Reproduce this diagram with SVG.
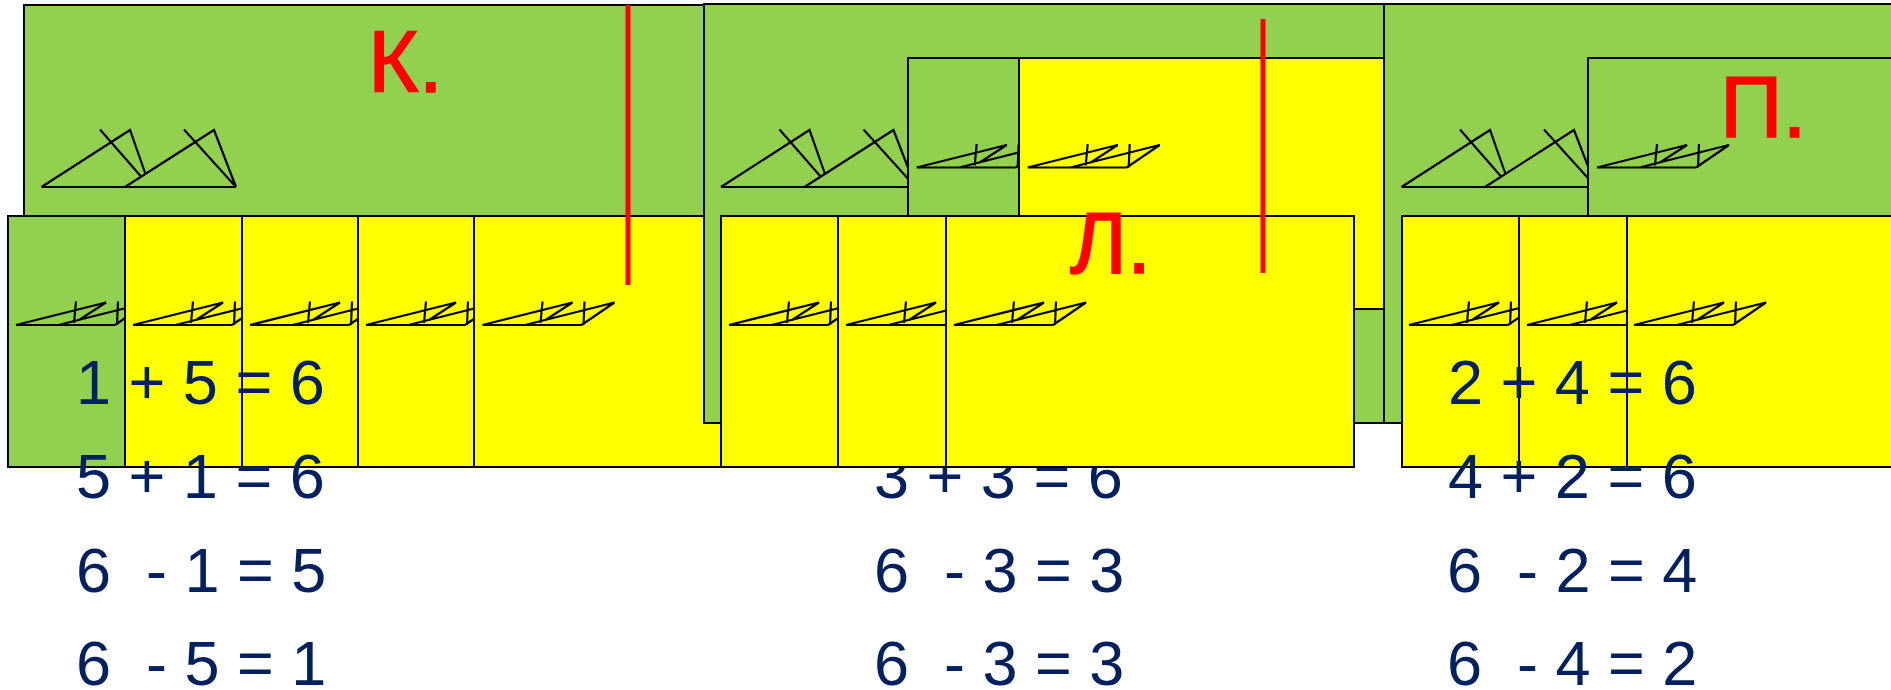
<svg xmlns="http://www.w3.org/2000/svg" xmlns:xlink="http://www.w3.org/1999/xlink" width="1891" height="690" viewBox="0 0 1891 690">
<style>
.g{fill:#92D050;stroke:#000;stroke-width:2}
.y{fill:#FFFF00;stroke:#000;stroke-width:2}
.fig{fill:none;stroke:#000;stroke-width:2.2;stroke-linejoin:miter}
.red{stroke:#FF0000;stroke-width:5}
.lbl{font-family:"Liberation Sans",Arial,sans-serif;font-size:87px;fill:#FF0000;stroke:#FF0000;stroke-width:1.5}
.eq{font-family:"Liberation Sans",Arial,sans-serif;font-size:63px;fill:#002060;white-space:pre}
</style>
<defs>
<g id="bigfig" class="fig">
<path d="M0,0 H194.5 M0,0 L88.5,-57 L104,-13 M58.5,-57.5 L100,-10 M83.5,0 L172.5,-57 L194.5,0 M142.5,-57.5 L194.5,0"/>
</g>
<g id="smallfig" class="fig">
<path d="M0,0 H99 M0,0 L90,-22.5 L63,-5 M42.5,0 L132,-22.5 L99,0 M60,-23.5 L58,-2 M102,-23.5 L101,0"/>
</g>
</defs>

<g id="left-group">
<rect class="g" x="24" y="5" width="680" height="418"/>
<use xlink:href="#bigfig" x="41.5" y="187"/>
<rect class="g" x="8" y="216" width="117" height="251"/>
<use xlink:href="#smallfig" x="16" y="325"/>
<rect class="y" x="125" y="216" width="117" height="251"/>
<use xlink:href="#smallfig" x="133" y="325"/>
<rect class="y" x="242" y="216" width="116" height="251"/>
<use xlink:href="#smallfig" x="250" y="325"/>
<rect class="y" x="358" y="216" width="116" height="251"/>
<use xlink:href="#smallfig" x="366" y="325"/>
<rect class="y" x="474" y="216" width="247" height="251"/>
<use xlink:href="#smallfig" x="482.5" y="325"/>
<line class="red" x1="628" y1="5" x2="628" y2="285"/>
<text class="lbl" x="368" y="92">К.</text>
</g>

<g id="left-equations">
<text class="eq" x="76" y="404">1 + 5 = 6</text>
<text class="eq" x="76" y="498">5 + 1 = 6</text>
<text class="eq" x="76" y="592">6  - 1 = 5</text>
<text class="eq" x="76" y="685">6  - 5 = 1</text>
</g>

<g id="middle-equations">
<text class="eq" x="874" y="498">3 + 3 = 6</text>
<text class="eq" x="874" y="592">6  - 3 = 3</text>
<text class="eq" x="874" y="685">6  - 3 = 3</text>
</g>

<g id="middle-group">
<rect class="g" x="704" y="4" width="680" height="419"/>
<use xlink:href="#bigfig" x="721" y="187"/>
<rect class="g" x="908" y="58" width="111" height="251"/>
<use xlink:href="#smallfig" x="916.7" y="167.5"/>
<rect class="y" x="1019" y="58" width="365" height="251"/>
<use xlink:href="#smallfig" x="1027.7" y="167.5"/>
<rect class="y" x="721" y="216" width="117" height="251"/>
<use xlink:href="#smallfig" x="729" y="325"/>
<rect class="y" x="838" y="216" width="108" height="251"/>
<use xlink:href="#smallfig" x="846" y="325"/>
<rect class="y" x="946" y="216" width="408" height="251"/>
<use xlink:href="#smallfig" x="954" y="325"/>
<line class="red" x1="1263" y1="19" x2="1263" y2="273"/>
<text class="lbl" x="1070" y="273">Л.</text>
</g>

<g id="right-group">
<rect class="g" x="1384" y="4" width="520" height="419"/>
<use xlink:href="#bigfig" x="1401.5" y="187"/>
<rect class="g" x="1588" y="58" width="320" height="251"/>
<use xlink:href="#smallfig" x="1597" y="167.5"/>
<rect class="y" x="1402" y="216" width="117" height="251"/>
<use xlink:href="#smallfig" x="1409" y="325"/>
<rect class="y" x="1519" y="216" width="108" height="251"/>
<use xlink:href="#smallfig" x="1527" y="325"/>
<rect class="y" x="1627" y="216" width="300" height="251"/>
<use xlink:href="#smallfig" x="1634" y="325"/>
<text class="lbl" x="1720" y="137">П.</text>
</g>

<g id="right-equations">
<text class="eq" x="1448" y="404">2 + 4 = 6</text>
<text class="eq" x="1448" y="498">4 + 2 = 6</text>
<text class="eq" x="1447" y="592">6  - 2 = 4</text>
<text class="eq" x="1447" y="685">6  - 4 = 2</text>
</g>

<g id="connectors"></g>
</svg>
